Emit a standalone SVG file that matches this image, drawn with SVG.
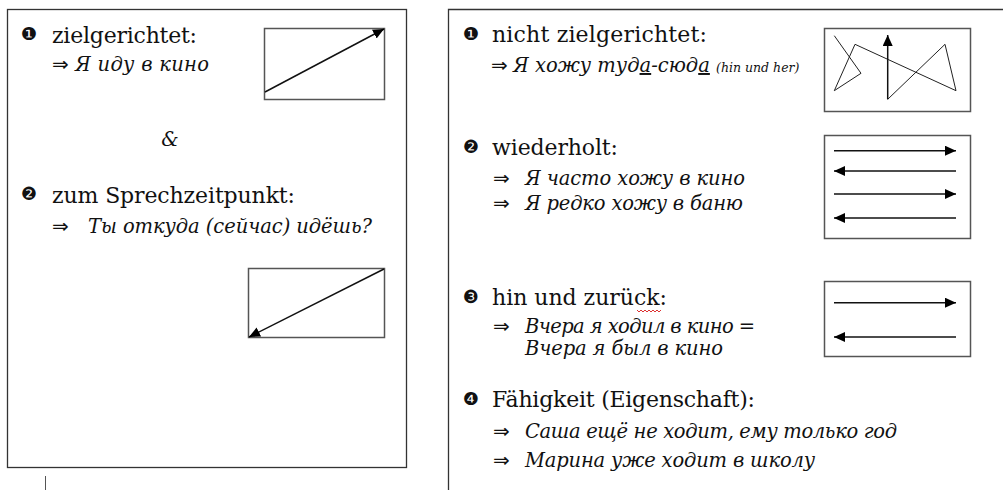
<svg xmlns="http://www.w3.org/2000/svg" width="1003" height="490" viewBox="0 0 1003 490">
<style>
.panel{fill:none;stroke:#333;stroke-width:1.3}
.box{fill:#fff;stroke:#555;stroke-width:1.5}
.h{font-family:"DejaVu Serif",serif;font-size:22px;fill:#111}
.s{font-family:"DejaVu Serif",serif;font-style:italic;font-size:19.5px;fill:#111}
.sm{font-size:12.5px}
.b{font-family:"DejaVu Sans",sans-serif;font-size:18px;fill:#111}
.ar{font-family:"DejaVu Sans",sans-serif;font-size:20px;fill:#111}
.ln{fill:none;stroke:#111;stroke-width:1.5}
.zz{fill:none;stroke:#222;stroke-width:1}
</style>
<defs>
<marker id="ah" markerUnits="userSpaceOnUse" markerWidth="12" markerHeight="12" refX="11" refY="5" orient="auto">
<path d="M0,0 L11,5 L0,10 z" fill="#000"/>
</marker>
</defs>
<rect width="1003" height="490" fill="#fff"/>
<g id="left-panel">
<rect class="panel" x="7.5" y="9.5" width="399" height="458"/>
<text class="b" x="21" y="40">❶</text>
<text class="h" x="52" y="43" textLength="145">zielgerichtet:</text>
<text class="ar" x="52" y="71">⇒</text>
<text class="s" x="75" y="71" textLength="134">Я иду в кино</text>
<text class="s" x="170" y="146" text-anchor="middle">&amp;</text>
<text class="b" x="21" y="200">❷</text>
<text class="h" x="52" y="203" textLength="243">zum Sprechzeitpunkt:</text>
<text class="ar" x="52" y="233">⇒</text>
<text class="s" x="88" y="233" textLength="284">Ты откуда (сейчас) идёшь?</text>
</g>
<g id="box-l1"><rect class="box" x="264.5" y="28.5" width="120" height="71"/></g>
<g id="box-l2"><rect class="box" x="248.5" y="268.5" width="136" height="69"/></g>
<g id="right-panel">
<path class="panel" d="M448.5,490 V9.5 H1003"/>
<text class="b" x="463" y="40">❶</text>
<text class="h" x="492" y="42" textLength="215">nicht zielgerichtet:</text>
<text class="ar" x="491" y="72">⇒</text>
<text class="s" x="513" y="72">Я хожу туд<tspan text-decoration="underline">а</tspan>-сюд<tspan text-decoration="underline">а</tspan> <tspan class="sm">(hin und her)</tspan></text>
<text class="b" x="463" y="153">❷</text>
<text class="h" x="492" y="155" textLength="126">wiederholt:</text>
<text class="ar" x="493" y="185">⇒</text>
<text class="s" x="525" y="185" textLength="220">Я часто хожу в кино</text>
<text class="ar" x="493" y="210">⇒</text>
<text class="s" x="525" y="210" textLength="218">Я редко хожу в баню</text>
<text class="b" x="463" y="303">❸</text>
<text class="h" x="492" y="305" textLength="175">hin und zurück:</text>
<path d="M637,310 l2,2 l2,-2 l2,2 l2,-2 l2,2 l2,-2 l2,2 l2,-2 l2,2 l2,-2 l2,2 l2,-2" fill="none" stroke="#d33" stroke-width="1"/>
<text class="ar" x="493" y="333">⇒</text>
<text class="s" x="525" y="333" textLength="230">Вчера я ходил в кино =</text>
<text class="s" x="525" y="355" textLength="198">Вчера я был в кино</text>
<text class="b" x="463" y="405">❹</text>
<text class="h" x="492" y="407" textLength="263">Fähigkeit (Eigenschaft):</text>
<text class="ar" x="493" y="438">⇒</text>
<text class="s" x="525" y="438" textLength="372">Саша ещё не ходит, ему только год</text>
<text class="ar" x="493" y="467">⇒</text>
<text class="s" x="525" y="467" textLength="290">Марина уже ходит в школу</text>
</g>
<g id="box-r1"><rect class="box" x="824.5" y="28.5" width="146" height="83"/></g>
<g id="box-r2"><rect class="box" x="824.5" y="135.5" width="146" height="103"/></g>
<g id="box-r3"><rect class="box" x="824.5" y="281.5" width="146" height="75"/></g>
<line x1="45.5" y1="476" x2="45.5" y2="490" stroke="#555" stroke-width="1"/>
<g id="connectors">
<line class="ln" x1="265" y1="92" x2="384" y2="29" marker-end="url(#ah)"/>
<line class="ln" x1="384" y1="269" x2="249" y2="337" marker-end="url(#ah)"/>
<polyline class="zz" points="834.3,35.7 861,73.3 834.3,90.7 855,44.3 956,90.7 945,44.3 887.7,99.3"/>
<line class="ln" x1="887.7" y1="99.3" x2="887.7" y2="35" marker-end="url(#ah)"/>
<line class="ln" x1="834" y1="150.7" x2="956" y2="150.7" marker-end="url(#ah)"/>
<line class="ln" x1="956" y1="171" x2="834" y2="171" marker-end="url(#ah)"/>
<line class="ln" x1="834" y1="194" x2="956" y2="194" marker-end="url(#ah)"/>
<line class="ln" x1="956" y1="218" x2="834" y2="218" marker-end="url(#ah)"/>
<line class="ln" x1="834" y1="302.7" x2="956" y2="302.7" marker-end="url(#ah)"/>
<line class="ln" x1="956" y1="337" x2="834" y2="337" marker-end="url(#ah)"/>
</g>
</svg>
